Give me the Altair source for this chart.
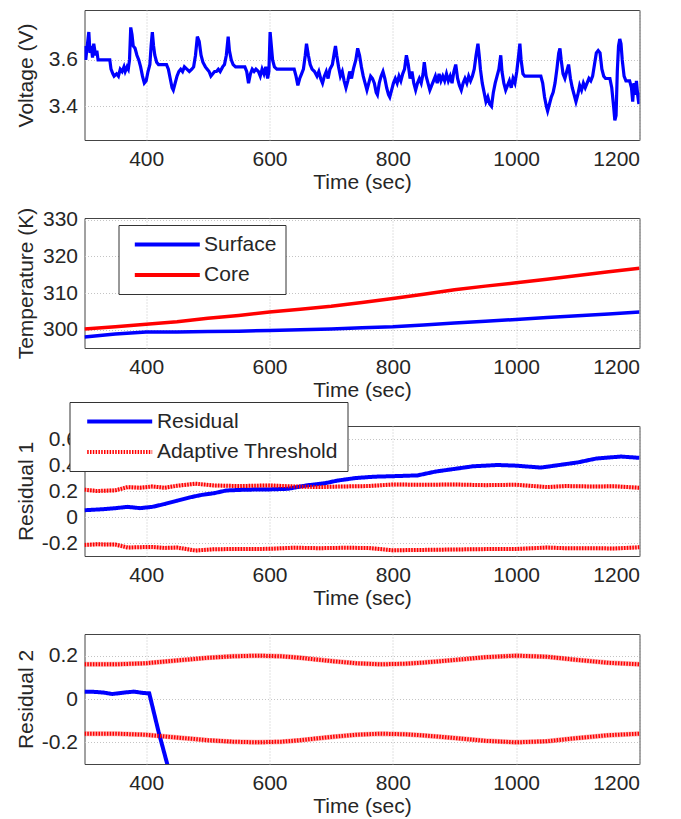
import altair as alt
import pandas as pd

# ---------------- data ----------------
X_TICKS = [400, 600, 800, 1000, 1200]

# Panel 1: terminal voltage
v_time = [300, 302, 304, 307, 309, 311, 313, 315, 318, 320, 322, 335, 341, 343, 346, 348, 352, 355, 358, 361,
          364, 366, 369, 371, 373, 375, 377, 379, 382, 385, 388, 391, 394, 397, 400, 403, 406, 408, 410, 412,
          414, 417, 420, 433, 436, 439, 442, 444, 447, 450, 453, 456, 459, 462, 466, 470, 474, 477, 480, 483,
          486, 489, 492, 496, 499, 502, 505, 508, 511, 514, 517, 520, 524, 527, 530, 533, 535, 538, 541, 545,
          560, 563, 566, 569, 572, 575, 578, 582, 585, 588, 591, 594, 597, 599, 601, 603, 605, 608, 612, 640,
          643, 646, 649, 652, 655, 658, 660, 663, 666, 669, 673, 677, 680, 683, 686, 689, 692, 695, 698, 702,
          705, 707, 709, 712, 715, 718, 721, 724, 727, 730, 733, 736, 740, 743, 746, 749, 752, 755, 758, 761,
          764, 767, 770, 773, 775, 778, 781, 784, 787, 790, 793, 795, 798, 801, 804, 807, 810, 813, 816, 819,
          822, 825, 828, 831, 834, 837, 840, 843, 846, 849, 851, 854, 857, 860, 863, 866, 869, 872, 875, 878,
          881, 884, 887, 890, 893, 896, 899, 902, 905, 908, 911, 914, 917, 920, 923, 926, 929, 932, 935, 938,
          940, 942, 945, 948, 951, 954, 957, 960, 963, 966, 969, 972, 975, 977, 980, 983, 986, 989, 992, 995,
          998, 1001, 1004, 1006, 1008, 1011, 1014, 1040, 1043, 1046, 1049, 1051, 1054, 1057, 1060, 1063, 1066, 1069,
          1071, 1073, 1076, 1079, 1082, 1085, 1088, 1091, 1094, 1097, 1100, 1103, 1106, 1109, 1112, 1115, 1118, 1121,
          1124, 1127, 1130, 1133, 1136, 1139, 1142, 1145, 1152, 1155, 1158, 1160, 1162, 1164, 1166, 1168, 1170, 1172,
          1175, 1178, 1184, 1187, 1189, 1191, 1193, 1195, 1197, 1199, 1200]
v_volt = [3.66, 3.60, 3.65, 3.72, 3.63, 3.66, 3.61, 3.67, 3.62, 3.64, 3.60, 3.60, 3.60, 3.56, 3.54, 3.53, 3.54, 3.53, 3.56, 3.55,
          3.57, 3.55, 3.57, 3.56, 3.60, 3.74, 3.71, 3.66, 3.65, 3.62, 3.60, 3.57, 3.53, 3.50, 3.51, 3.55, 3.58, 3.66, 3.72, 3.66,
          3.62, 3.59, 3.58, 3.58, 3.56, 3.52, 3.48, 3.47, 3.50, 3.53, 3.55, 3.56, 3.55, 3.57, 3.56, 3.55, 3.56, 3.57, 3.62, 3.70,
          3.68, 3.62, 3.59, 3.57, 3.56, 3.55, 3.53, 3.54, 3.55, 3.55, 3.56, 3.55, 3.57, 3.58, 3.62, 3.70, 3.64, 3.60, 3.58, 3.57,
          3.57, 3.55, 3.50, 3.54, 3.56, 3.55, 3.56, 3.55, 3.53, 3.56, 3.54, 3.57, 3.52, 3.55, 3.72, 3.66, 3.60, 3.57, 3.56, 3.56,
          3.53, 3.49, 3.52, 3.54, 3.56, 3.62, 3.67, 3.62, 3.58, 3.56, 3.55, 3.53, 3.55, 3.52, 3.50, 3.53, 3.55, 3.52, 3.56, 3.58,
          3.63, 3.66, 3.62, 3.57, 3.53, 3.55, 3.51, 3.48, 3.51, 3.55, 3.52, 3.56, 3.60, 3.65, 3.62, 3.57, 3.53, 3.50, 3.47, 3.50,
          3.53, 3.52, 3.50, 3.46, 3.45, 3.50, 3.53, 3.55, 3.52, 3.48, 3.45, 3.44, 3.47, 3.50, 3.52, 3.50, 3.53, 3.51, 3.54, 3.56,
          3.62, 3.58, 3.52, 3.55, 3.50, 3.47, 3.50, 3.52, 3.50, 3.54, 3.59, 3.53, 3.50, 3.47, 3.49, 3.51, 3.53, 3.50, 3.54, 3.51,
          3.53, 3.51, 3.54, 3.51, 3.53, 3.50, 3.55, 3.58, 3.52, 3.49, 3.47, 3.50, 3.52, 3.50, 3.53, 3.51, 3.53, 3.56, 3.62, 3.67,
          3.62, 3.56, 3.50, 3.46, 3.42, 3.44, 3.41, 3.40, 3.46, 3.50, 3.53, 3.56, 3.62, 3.55, 3.50, 3.47, 3.49, 3.51, 3.48, 3.52,
          3.50, 3.55, 3.62, 3.67, 3.60, 3.54, 3.53, 3.53, 3.50, 3.44, 3.40, 3.38, 3.41, 3.44, 3.46, 3.50, 3.56, 3.63,
          3.65, 3.60, 3.54, 3.52, 3.55, 3.58, 3.52, 3.48, 3.45, 3.42, 3.45, 3.49, 3.47, 3.50, 3.48, 3.50, 3.52, 3.51,
          3.53, 3.58, 3.63, 3.64, 3.63, 3.56, 3.53, 3.52, 3.52, 3.48, 3.40, 3.34, 3.36, 3.55, 3.66, 3.69, 3.67, 3.60,
          3.53, 3.51, 3.51, 3.48, 3.42, 3.50, 3.45, 3.51, 3.45, 3.41, 3.46]

# Panel 2: temperatures
t_time = [300, 350, 400, 450, 500, 550, 600, 650, 700, 750, 800, 850, 900, 950, 1000, 1050, 1100, 1150, 1200]
t_surface = [298.0, 298.8, 299.4, 299.4, 299.5, 299.6, 299.8, 300.0, 300.2, 300.5, 300.8, 301.3, 301.8, 302.3,
             302.8, 303.3, 303.8, 304.3, 304.8]
t_core = [300.2, 300.8, 301.5, 302.2, 303.1, 303.9, 304.8, 305.6, 306.4, 307.4, 308.5, 309.7, 310.9, 311.9,
          312.8, 313.8, 314.8, 315.8, 316.8]

# Panel 3: residual 1 with adaptive threshold
r1_time = [300, 330, 350, 370, 390, 410, 430, 450, 470, 490, 510, 530, 560, 600, 630, 660, 690, 710, 740, 770,
           800, 840, 870, 900, 930, 970, 1000, 1040, 1070, 1100, 1130, 1170, 1200]
r1_res = [0.052, 0.060, 0.068, 0.078, 0.068, 0.078, 0.100, 0.125, 0.150, 0.170, 0.183, 0.204, 0.210, 0.212, 0.217,
          0.243, 0.260, 0.280, 0.300, 0.310, 0.314, 0.320, 0.350, 0.370, 0.390, 0.400, 0.395, 0.380, 0.400, 0.420,
          0.450, 0.465, 0.455]
r1_thr_time = [300, 320, 350, 370, 390, 410, 430, 450, 480, 510, 550, 600, 640, 680, 720, 760, 800, 850, 900, 950,
               1000, 1050, 1080, 1120, 1160, 1200]
r1_thr_up = [0.210, 0.200, 0.205, 0.230, 0.225, 0.235, 0.225, 0.240, 0.256, 0.243, 0.238, 0.243, 0.235, 0.230,
             0.235, 0.238, 0.250, 0.248, 0.250, 0.245, 0.248, 0.230, 0.238, 0.235, 0.236, 0.225]
r1_thr_lo = [-0.215, -0.210, -0.212, -0.235, -0.232, -0.230, -0.238, -0.235, -0.258, -0.248, -0.246, -0.245, -0.236,
             -0.240, -0.237, -0.238, -0.256, -0.253, -0.250, -0.247, -0.246, -0.235, -0.240, -0.240, -0.242, -0.233]

# Panel 4: residual 2 with adaptive threshold
r2_time = [300, 315, 330, 345, 365, 380, 395, 405, 420, 437]
r2_res = [0.034, 0.033, 0.030, 0.023, 0.030, 0.034, 0.028, 0.026, -0.150, -0.330]
r2_thr_time = [300, 350, 400, 450, 500, 540, 580, 620, 650, 700, 740, 780, 820, 850, 900, 950, 1000, 1050, 1100,
               1150, 1200]
r2_thr_up = [0.160, 0.160, 0.165, 0.178, 0.190, 0.197, 0.200, 0.197, 0.190, 0.175, 0.165, 0.160, 0.163, 0.168,
             0.180, 0.193, 0.200, 0.195, 0.180, 0.167, 0.160]
r2_thr_lo = [-0.160, -0.160, -0.165, -0.178, -0.190, -0.197, -0.200, -0.197, -0.190, -0.175, -0.165, -0.160,
             -0.163, -0.168, -0.180, -0.193, -0.200, -0.195, -0.180, -0.167, -0.160]

# ---------------- styling ----------------
FONT = "Liberation Sans"
TXT = "#262626"
BLUE = "#0000ff"
RED = "#ff0000"
W, H = 555, 130

x_enc = alt.X("t:Q", scale=alt.Scale(domain=[300, 1200], nice=False, zero=False),
              axis=alt.Axis(values=X_TICKS, title="Time (sec)", format="d"))


def y_axis(title, values, fmt):
    return alt.Axis(values=values, title=title, titleX=-52, titleBaseline="alphabetic",
                    labelExpr="datum.value == 0 ? '0' : replace(format(datum.value, '%s'), '\u2212', '-')" % fmt)


def legend(lx, ly, sym_off, lab_off):
    return alt.Legend(orient="none", legendX=lx, legendY=ly, title=None, strokeColor="#333",
                      fillColor="white", padding=9, rowPadding=8.5, labelFontSize=21, labelFont=FONT,
                      labelColor=TXT, labelLimit=400, symbolType="M-5,0H5", symbolStrokeWidth=4,
                      symbolSize=169, symbolOffset=sym_off, labelOffset=lab_off)


# Panel 1
df1 = pd.DataFrame({"t": v_time, "v": v_volt})
p1 = alt.Chart(df1).mark_line(color=BLUE, strokeWidth=3.2, clip=True).encode(
    x=x_enc,
    y=alt.Y("v:Q", scale=alt.Scale(domain=[3.255, 3.815], nice=False, zero=False),
            axis=y_axis("Voltage (V)", [3.4, 3.6], ".1f")),
).properties(width=W, height=H)

# Panel 2
df2 = pd.concat([
    pd.DataFrame({"t": t_time, "temp": t_surface, "series": "Surface"}),
    pd.DataFrame({"t": t_time, "temp": t_core, "series": "Core"}),
])
p2 = alt.Chart(df2).mark_line(strokeWidth=3.5, clip=True).encode(
    x=x_enc,
    y=alt.Y("temp:Q", scale=alt.Scale(domain=[295, 330.5], nice=False, zero=False),
            axis=y_axis("Temperature (K)", [300, 310, 320, 330], "d")),
    color=alt.Color("series:N", scale=alt.Scale(domain=["Surface", "Core"], range=[BLUE, RED]),
                    legend=legend(34, 7, 29.3, 26.3)),
).properties(width=W, height=H)

# Panel 3
df3 = pd.concat([
    pd.DataFrame({"t": r1_time, "r": r1_res, "series": "Residual", "band": "res"}),
    pd.DataFrame({"t": r1_thr_time, "r": r1_thr_up, "series": "Adaptive Threshold", "band": "up"}),
    pd.DataFrame({"t": r1_thr_time, "r": r1_thr_lo, "series": "Adaptive Threshold", "band": "lo"}),
])
ser3 = ["Residual", "Adaptive Threshold"]
y3 = alt.Y("r:Q", scale=alt.Scale(domain=[-0.3, 0.7], nice=False, zero=False),
           axis=y_axis("Residual 1", [-0.2, 0, 0.2, 0.4, 0.6], ".1f"))
leg3 = legend(-15, -24, 30.7, 26.7)
under3 = alt.Chart(df3).transform_filter("datum.band != 'res'").mark_line(
    color=RED, opacity=0.3, strokeWidth=4, clip=True).encode(x=x_enc, y=y3, detail="band:N")
main3 = alt.Chart(df3).mark_line(strokeWidth=4, clip=True).encode(
    x=x_enc, y=y3, detail="band:N",
    color=alt.Color("series:N", scale=alt.Scale(domain=ser3, range=[BLUE, RED]), legend=leg3),
    strokeDash=alt.StrokeDash("series:N", scale=alt.Scale(domain=ser3, range=[[1, 0], [1.5, 1.3]]),
                              legend=leg3),
)
p3 = alt.layer(under3, main3).properties(width=W, height=H)

# Panel 4
df4 = pd.concat([
    pd.DataFrame({"t": r2_time, "r": r2_res, "series": "Residual", "band": "res"}),
    pd.DataFrame({"t": r2_thr_time, "r": r2_thr_up, "series": "Adaptive Threshold", "band": "up"}),
    pd.DataFrame({"t": r2_thr_time, "r": r2_thr_lo, "series": "Adaptive Threshold", "band": "lo"}),
])
y4 = alt.Y("r:Q", scale=alt.Scale(domain=[-0.3, 0.3], nice=False, zero=False),
           axis=y_axis("Residual 2", [-0.2, 0, 0.2], ".1f"))
under4 = alt.Chart(df4).transform_filter("datum.band != 'res'").mark_line(
    color=RED, opacity=0.3, strokeWidth=5, clip=True).encode(x=x_enc, y=y4, detail="band:N")
main4 = alt.Chart(df4).mark_line(strokeWidth=4, clip=True).encode(
    x=x_enc, y=y4, detail="band:N",
    color=alt.Color("series:N", scale=alt.Scale(domain=ser3, range=[BLUE, RED]), legend=None),
    strokeDash=alt.StrokeDash("series:N", scale=alt.Scale(domain=ser3, range=[[1, 0], [1.5, 1.3]]),
                              legend=None),
)
p4 = alt.layer(under4, main4).properties(width=W, height=H)

chart = alt.vconcat(p1, p2, p3, p4, spacing=78, bounds="flush").resolve_scale(
    color="independent", strokeDash="independent"
).properties(
    padding={"left": 6.5, "top": 1, "right": 5, "bottom": 0}
).configure_view(
    stroke="#444", strokeWidth=1
).configure_axis(
    grid=True, gridDash=[1, 2], gridColor="#c4c4c4", gridWidth=1, ticks=False, domain=False,
    labelFont=FONT, titleFont=FONT, labelFontSize=21, titleFontSize=21, labelColor=TXT,
    titleColor=TXT, titleFontWeight="normal", labelPadding=7, titlePadding=2
).configure_axisX(labelPadding=8)

chart.save("out.html", embed_options={"renderer": "svg", "actions": False})
